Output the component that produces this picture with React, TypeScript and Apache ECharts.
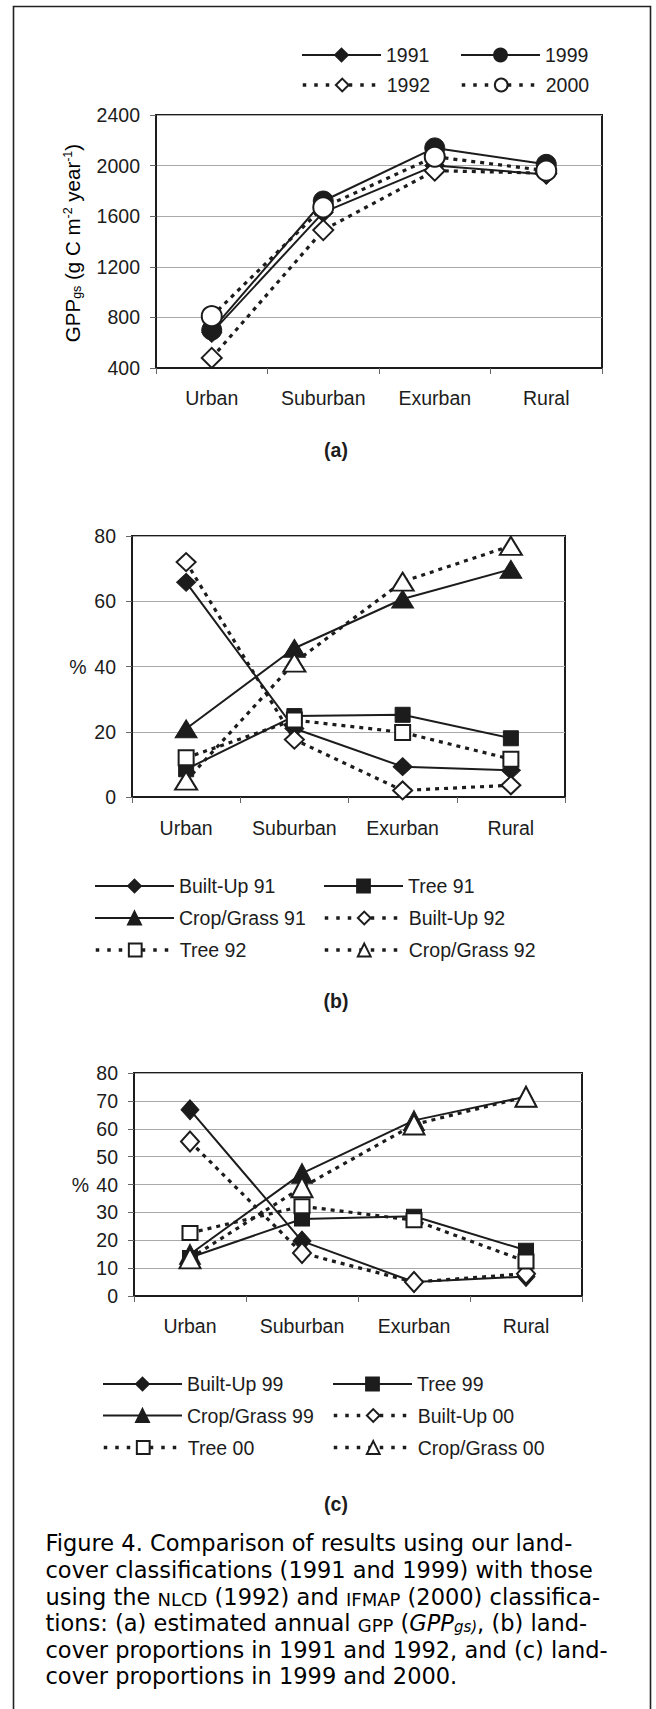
import React, { useEffect, useRef } from 'react';
import * as echarts from 'echarts';

// ---------- data ----------
const categories = ['Urban', 'Suburban', 'Exurban', 'Rural'];

// (a) GPP_gs (g C m-2 year-1)
const gpp1991 = [680, 1630, 2000, 1930];
const gpp1999 = [700, 1720, 2140, 2010];
const gpp1992 = [480, 1490, 1960, 1940];
const gpp2000 = [810, 1670, 2070, 1960];

// (b) land-cover proportions 1991 / 1992 (%)
const builtUp91 = [65.8, 21, 9.3, 8.2];
const tree91 = [8.5, 24.8, 25.2, 18];
const crop91 = [20.9, 45.6, 60.7, 69.8];
const builtUp92 = [72, 17.6, 2.0, 3.6];
const tree92 = [12, 23.6, 19.8, 11.6];
const crop92 = [5, 41.2, 66, 77];

// (c) land-cover proportions 1999 / 2000 (%)
const builtUp99 = [66.8, 19.7, 5, 7];
const tree99 = [13.8, 27.6, 28.6, 16.4];
const crop99 = [15, 44, 63, 71.5];
const builtUp00 = [55.4, 15.4, 5, 8];
const tree00 = [22.6, 32.2, 27.2, 12.4];
const crop00 = [13.5, 39, 61.5, 71.5];

const captionLines = [
  '{n|Figure 4. Comparison of results using our land-}',
  '{n|cover classifications (1991 and 1999) with those}',
  '{n|using the }{sc|NLCD}{n| (1992) and }{sc|IFMAP}{n| (2000) classifica-}',
  '{n|tions: (a) estimated annual }{sc|GPP}{n| (}{it|GPP}{its|gs)}{n|, (b) land-}',
  '{n|cover proportions in 1991 and 1992, and (c) land-}',
  '{n|cover proportions in 1999 and 2000.}',
];

// ---------- style ----------
const INK = '#1c1c1c';
const GRIDC = '#a9a9a9';
const FONT = '"Liberation Sans", Arial, sans-serif';
const CAPFONT = '"DejaVu Sans", sans-serif';
const FS = 19.5;

type G = { left: number; top: number; width: number; height: number };
const grids: G[] = [
  { left: 156, top: 115, width: 446, height: 253 },
  { left: 132, top: 536, width: 433, height: 261 },
  { left: 134, top: 1073, width: 448, height: 223 },
];

function series(
  name: string,
  data: number[],
  gi: number,
  symbol: string,
  filled: boolean,
  dotted: boolean,
  size: number | number[],
  z: number
) {
  return {
    type: 'line',
    name,
    data,
    xAxisIndex: gi,
    yAxisIndex: gi,
    symbol,
    symbolSize: size,
    showSymbol: true,
    showAllSymbol: true,
    clip: false,
    z,
    lineStyle: { color: INK, width: dotted ? 3.2 : 2, type: dotted ? [4, 5] : 'solid' },
    itemStyle: filled
      ? { color: INK, borderColor: INK, borderWidth: 1 }
      : { color: '#ffffff', borderColor: INK, borderWidth: 2 },
    emphasis: { disabled: true },
  };
}

function legend(name: string, left: number, rowY: number, dotted: boolean) {
  const l: any = {
    data: [name],
    left,
    top: rowY - 8,
    itemWidth: 79,
    itemHeight: 16,
    padding: 0,
    selectedMode: false,
    textStyle: { fontSize: FS, fontFamily: FONT, color: INK },
  };
  if (dotted) l.lineStyle = { type: [3.5, 8], width: 3.5 };
  return l;
}

function xAxis(gi: number, margin: number) {
  return {
    type: 'category',
    gridIndex: gi,
    data: categories,
    boundaryGap: true,
    axisLine: { lineStyle: { color: INK, width: 2 } },
    axisTick: { show: true, length: 6, lineStyle: { color: '#666', width: 1 } },
    axisLabel: { fontSize: FS, fontFamily: FONT, color: INK, margin, interval: 0, hideOverlap: false },
    splitLine: { show: false },
  };
}

function yAxis(gi: number, min: number, max: number, interval: number) {
  return {
    type: 'value',
    gridIndex: gi,
    min,
    max,
    interval,
    axisLine: { show: true, lineStyle: { color: INK, width: 2 } },
    axisTick: { show: true, length: 6, lineStyle: { color: '#666', width: 1 } },
    axisLabel: {
      fontSize: FS,
      fontFamily: FONT,
      color: INK,
      margin: 16,
      formatter: (v: number) => String(v),
    },
    splitLine: { show: true, lineStyle: { color: GRIDC, width: 1 } },
  };
}

const capRich = {
  n: { fontSize: 22.5, fontFamily: CAPFONT, color: '#2a2a2a', verticalAlign: 'bottom' },
  sc: { fontSize: 18, fontFamily: CAPFONT, color: '#2a2a2a', verticalAlign: 'bottom' },
  it: { fontSize: 22.5, fontFamily: CAPFONT, fontStyle: 'italic', color: '#2a2a2a', verticalAlign: 'bottom' },
  its: { fontSize: 15, fontFamily: CAPFONT, fontStyle: 'italic', color: '#2a2a2a', verticalAlign: 'bottom', lineHeight: 10 },
};

export default function App() {
  const ref = useRef<HTMLDivElement>(null);
  useEffect(() => {
    if (!ref.current) return;
    const chart = echarts.init(ref.current, undefined, { renderer: 'svg' });
    const capY = [1543, 1570, 1596.6, 1623.2, 1649.8, 1676.4];
    const option: any = {
      animation: false,
      backgroundColor: '#ffffff',
      textStyle: { fontFamily: FONT },
      grid: grids.map((g) => ({ ...g, show: true, borderColor: INK, borderWidth: 2, containLabel: false })),
      xAxis: [xAxis(0, 20), xAxis(1, 21), xAxis(2, 19.5)],
      yAxis: [yAxis(0, 400, 2400, 400), yAxis(1, 0, 80, 20), yAxis(2, 0, 80, 10)],
      legend: [
        legend('1991', 301, 53, false),
        legend('1999', 460, 53, false),
        legend('1992', 301, 83, true),
        legend('2000', 460, 83, true),
        legend('Built-Up 91', 94, 884, false),
        legend('Tree 91', 323, 884, false),
        legend('Crop/Grass 91', 94, 916, false),
        legend('Built-Up 92', 323, 916, true),
        legend('Tree 92', 94, 948, true),
        legend('Crop/Grass 92', 323, 948, true),
        legend('Built-Up 99', 102, 1382, false),
        legend('Tree 99', 332, 1382, false),
        legend('Crop/Grass 99', 102, 1413.5, false),
        legend('Built-Up 00', 332, 1413.5, true),
        legend('Tree 00', 102, 1445.5, true),
        legend('Crop/Grass 00', 332, 1445.5, true),
      ],
      series: [
        series('1992', gpp1992, 0, 'diamond', false, true, 20, 3),
        series('2000', gpp2000, 0, 'circle', false, true, 20, 4),
        series('1991', gpp1991, 0, 'diamond', true, false, 20, 2),
        series('1999', gpp1999, 0, 'circle', true, false, 20, 2),

        series('Built-Up 91', builtUp91, 1, 'diamond', true, false, [19, 18], 2),
        series('Tree 91', tree91, 1, 'rect', true, false, 15, 2),
        series('Crop/Grass 91', crop91, 1, 'triangle', true, false, [22, 18], 2),
        series('Built-Up 92', builtUp92, 1, 'diamond', false, true, [19, 18], 3),
        series('Tree 92', tree92, 1, 'rect', false, true, 15, 3),
        series('Crop/Grass 92', crop92, 1, 'triangle', false, true, [22, 18], 3),

        series('Built-Up 99', builtUp99, 2, 'diamond', true, false, [18, 20], 2),
        series('Tree 99', tree99, 2, 'rect', true, false, [15, 14], 2),
        series('Crop/Grass 99', crop99, 2, 'triangle', true, false, [21, 20], 2),
        series('Built-Up 00', builtUp00, 2, 'diamond', false, true, [18, 20], 3),
        series('Tree 00', tree00, 2, 'rect', false, true, [15, 14], 3),
        series('Crop/Grass 00', crop00, 2, 'triangle', false, true, [21, 20], 3),
      ],
      graphic: [
        {
          type: 'rect',
          silent: true,
          z: -10,
          shape: { x: 13.5, y: 6.5, width: 637, height: 1730 },
          style: { fill: 'none', stroke: '#222', lineWidth: 1.6 },
        },
        {
          type: 'text',
          x: 72,
          y: 243,
          rotation: Math.PI / 2,
          style: {
            text: '{n|GPP}{sub|gs}{n| (g C m}{sup|-2}{n| year}{sup|-1}{n|)}',
            align: 'center',
            verticalAlign: 'middle',
            rich: {
              n: { fontSize: 20.5, fontFamily: FONT, color: INK, verticalAlign: 'middle', lineHeight: 22 },
              sub: { fontSize: 12.5, fontFamily: FONT, color: INK, verticalAlign: 'bottom', lineHeight: 10 },
              sup: { fontSize: 12.5, fontFamily: FONT, color: INK, verticalAlign: 'top', lineHeight: 12 },
            },
          },
        },
        {
          type: 'text',
          x: 78,
          y: 667,
          style: { text: '%', fontSize: FS, fontFamily: FONT, fill: INK, align: 'center', verticalAlign: 'middle' },
        },
        {
          type: 'text',
          x: 80.5,
          y: 1185,
          style: { text: '%', fontSize: FS, fontFamily: FONT, fill: INK, align: 'center', verticalAlign: 'middle' },
        },
        ...['(a)', '(b)', '(c)'].map((t, i) => ({
          type: 'text',
          x: 336,
          y: [450, 1001, 1504][i],
          style: {
            text: t,
            fontSize: FS,
            fontWeight: 'bold',
            fontFamily: FONT,
            fill: INK,
            align: 'center',
            verticalAlign: 'middle',
          },
        })),
        ...captionLines.map((t, i) => ({
          type: 'text',
          x: 45.5,
          y: capY[i],
          style: { text: t, rich: capRich, align: 'left', verticalAlign: 'middle' },
        })),
      ],
    };
    chart.setOption(option);
    return () => chart.dispose();
  }, []);
  return (
    <div
      ref={ref}
      style={{ position: 'absolute', left: 0, top: 0, width: 656, height: 1709, background: '#fff' }}
    />
  );
}
